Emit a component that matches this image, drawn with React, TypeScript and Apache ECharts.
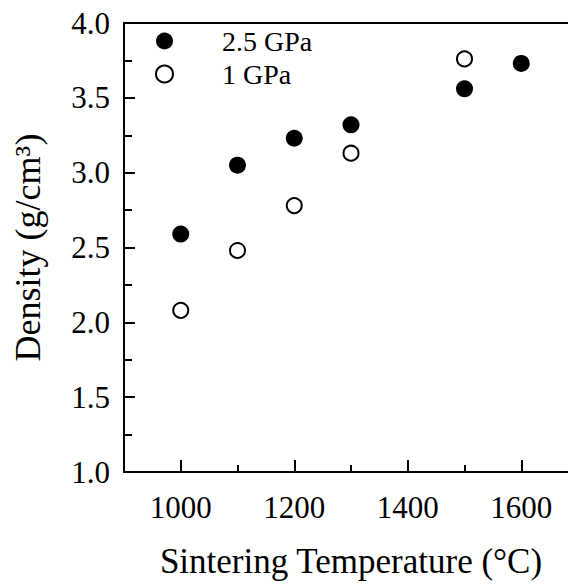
import React, { useEffect, useRef } from "react";
import * as echarts from "echarts";

const temps25 = [1000, 1100, 1200, 1300, 1500, 1600];
const density25 = [2.59, 3.05, 3.23, 3.32, 3.56, 3.73];
const temps1 = [1000, 1100, 1200, 1300, 1500];
const density1 = [2.08, 2.48, 2.78, 3.13, 3.76];
const xMajorTicks = [1000, 1200, 1400, 1600];
const xMinorTicks = [1100, 1300, 1500];
const seriesNames = ["2.5 GPa", "1 GPa"];

const FONT = "'Liberation Serif', serif";

export default function App() {
  const ref = useRef<HTMLDivElement>(null);
  useEffect(() => {
    document.body.style.margin = "0";
    const chart = echarts.init(ref.current!, null, { renderer: "svg" });
    const pts25 = temps25.map((t, i) => [t, density25[i]]);
    const pts1 = temps1.map((t, i) => [t, density1[i]]);
    chart.setOption({
      animation: false,
      backgroundColor: "#fff",
      textStyle: { fontFamily: FONT, color: "#000" },
      grid: {
        left: 124,
        top: 23,
        width: 454,
        height: 449,
        containLabel: false,
        outerBoundsMode: "none",
        show: true,
        borderColor: "#000",
        borderWidth: 2,
        backgroundColor: "transparent",
      },
      legend: {
        orient: "vertical",
        left: 155,
        top: 27,
        padding: 0,
        itemWidth: 17,
        itemHeight: 17,
        itemGap: 5,
        textStyle: { fontFamily: FONT, fontSize: 28, color: "#000", padding: [0, 0, 0, 44] },
        data: [
          { name: seriesNames[0], icon: "circle", itemStyle: { color: "#000", borderWidth: 0 } },
          { name: seriesNames[1], icon: "circle", itemStyle: { color: "#fff", borderColor: "#000", borderWidth: 2 } },
        ],
      },
      xAxis: [
        {
          type: "value",
          min: 900,
          max: 1700,
          interval: 100,
          position: "bottom",
          name: "Sintering Temperature (°C)",
          nameLocation: "middle",
          nameGap: 72,
          nameTextStyle: { fontFamily: FONT, fontSize: 35, color: "#000" },
          axisLine: { show: true, lineStyle: { color: "#000", width: 2 } },
          axisTick: { show: true, inside: true, length: 12, customValues: xMajorTicks, lineStyle: { color: "#000", width: 2 } },
          axisLabel: {
            show: true,
            customValues: xMajorTicks,
            margin: 20,
            fontFamily: FONT,
            fontSize: 31,
            color: "#000",
            formatter: (v: number) => String(v),
          },
          splitLine: { show: false },
        },
        {
          type: "value",
          min: 900,
          max: 1700,
          interval: 100,
          position: "bottom",
          axisLine: { show: false },
          axisTick: { show: true, inside: true, length: 7, customValues: xMinorTicks, lineStyle: { color: "#000", width: 2 } },
          axisLabel: { show: false },
          splitLine: { show: false },
        },
      ],
      yAxis: {
        type: "value",
        min: 1,
        max: 4,
        interval: 0.5,
        name: "Density (g/cm³)",
        nameLocation: "middle",
        nameGap: 78,
        nameTextStyle: { fontFamily: FONT, fontSize: 36, color: "#000" },
        axisLine: { show: true, lineStyle: { color: "#000", width: 2 } },
        axisTick: { show: true, inside: true, length: 11, lineStyle: { color: "#000", width: 2 } },
        minorTick: { show: true, splitNumber: 2, length: 8, lineStyle: { color: "#000", width: 2 } },
        axisLabel: {
          margin: 14,
          fontFamily: FONT,
          fontSize: 31,
          color: "#000",
          formatter: (v: number) => v.toFixed(1),
        },
        splitLine: { show: false },
        minorSplitLine: { show: false },
      },
      series: [
        {
          name: seriesNames[0],
          type: "scatter",
          xAxisIndex: 0,
          symbol: "circle",
          symbolSize: 17,
          itemStyle: { color: "#000", opacity: 1 },
          data: pts25,
        },
        {
          name: seriesNames[1],
          type: "scatter",
          xAxisIndex: 0,
          symbol: "circle",
          symbolSize: 15,
          itemStyle: { color: "#fff", borderColor: "#000", borderWidth: 2, opacity: 1 },
          data: pts1,
        },
      ],
    });
    return () => chart.dispose();
  }, []);
  return <div ref={ref} style={{ position: "absolute", left: 0, top: 0, width: 568, height: 585 }} />;
}
